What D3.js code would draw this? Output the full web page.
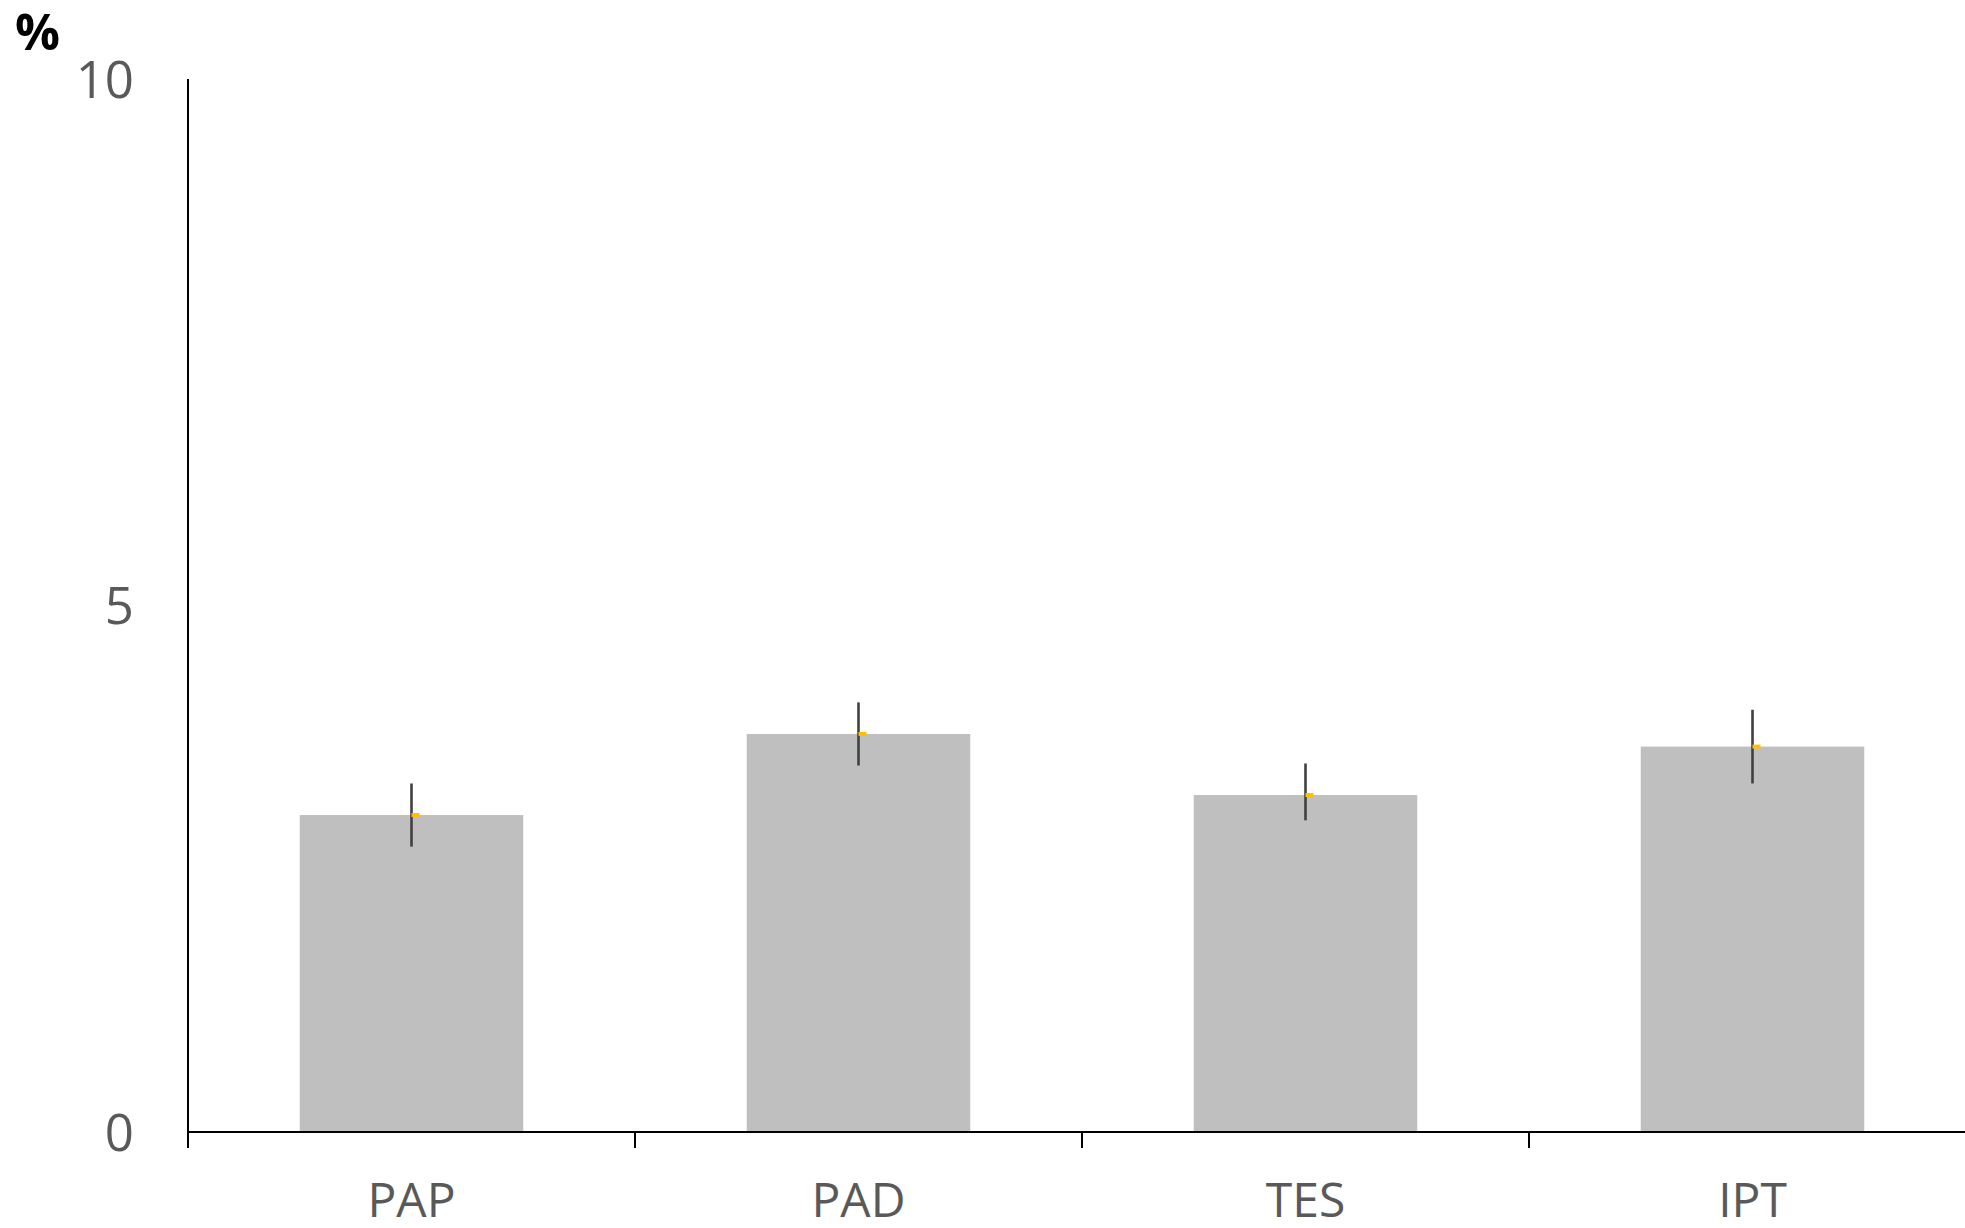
<!DOCTYPE html>
<html>
<head>
<meta charset="utf-8">
<script src="https://cdn.jsdelivr.net/npm/d3@7"></script>
<style>
  html, body { margin: 0; padding: 0; background: #fff; }
  svg { display: block; }
</style>
</head>
<body>
<svg id="chart" width="1965" height="1228"></svg>
<script>
const categories = ["PAP", "PAD", "TES", "IPT"];
const values = [3.01, 3.78, 3.20, 3.66];
const errLow = [2.71, 3.48, 2.96, 3.31];
const errHigh = [3.31, 4.08, 3.50, 4.01];
const yTicks = [0, 5, 10];
const unitLabel = "%";

(function () {
const svg = d3.select("#chart");
const W = 1965, H = 1228;
const mLeft = 188, mRight = 1976, mTop = 79, mBottom = 1132;

const x = d3.scaleBand().domain(categories).range([mLeft, mRight]).paddingInner(0.5).paddingOuter(0.25);
const xBand = d3.scaleBand().domain(categories).range([mLeft, mRight]).padding(0);
const y = d3.scaleLinear().domain([0, 10]).range([mBottom, mTop]);

const data = categories.map((c, i) => ({ c, v: values[i], lo: errLow[i], hi: errHigh[i] }));

// bars
svg.append("g").selectAll("rect").data(data).join("rect")
  .attr("x", d => x(d.c))
  .attr("width", x.bandwidth())
  .attr("y", d => y(d.v))
  .attr("height", d => y(0) - y(d.v))
  .attr("fill", "#BFBFBF");

// error bars
svg.append("g").selectAll("line").data(data).join("line")
  .attr("x1", d => x(d.c) + x.bandwidth() / 2)
  .attr("x2", d => x(d.c) + x.bandwidth() / 2)
  .attr("y1", d => y(d.hi))
  .attr("y2", d => y(d.lo))
  .attr("stroke", "#404040")
  .attr("stroke-width", 2.6);

// mean markers
svg.append("g").selectAll("rect").data(data).join("rect")
  .attr("x", d => x(d.c) + x.bandwidth() / 2)
  .attr("width", 8)
  .attr("y", d => y(d.v) - 2)
  .attr("height", 4)
  .attr("fill", "#FFC000");

// y axis
const yAxis = d3.axisLeft(y).tickValues(yTicks).tickSize(0).tickPadding(54).tickFormat(d3.format("d"));
const gy = svg.append("g").attr("transform", `translate(${mLeft},0)`).call(yAxis);
gy.select(".domain").attr("stroke", "#000").attr("stroke-width", 2).attr("d", `M0,${mTop}V${mBottom}`);
gy.selectAll("text").attr("fill", "#595959").attr("font-family", "'Open Sans', sans-serif")
  .attr("font-size", 51).attr("dy", "0.36em");

// x axis
const xAxis = d3.axisBottom(xBand).tickSize(0).tickPadding(0);
const gx = svg.append("g").attr("transform", `translate(0,${mBottom})`).call(xAxis);
gx.select(".domain").attr("stroke", "#000").attr("stroke-width", 2).attr("d", `M${mLeft},0H${W}`);
gx.selectAll(".tick text").attr("fill", "#595959").attr("font-family", "'Open Sans', sans-serif")
  .attr("font-size", 48).attr("y", 85).attr("dy", 0);
// boundary ticks
svg.append("g").selectAll("line").data(categories).join("line")
  .attr("x1", d => xBand(d)).attr("x2", d => xBand(d))
  .attr("y1", mBottom).attr("y2", mBottom + 16)
  .attr("stroke", "#000").attr("stroke-width", 2);

// unit label
svg.append("text").attr("x", 15).attr("y", 50).text(unitLabel)
  .attr("font-family", "'Open Sans', sans-serif").attr("font-weight", "bold")
  .attr("font-size", 50).attr("fill", "#000");
})();
</script>
</body>
</html>
